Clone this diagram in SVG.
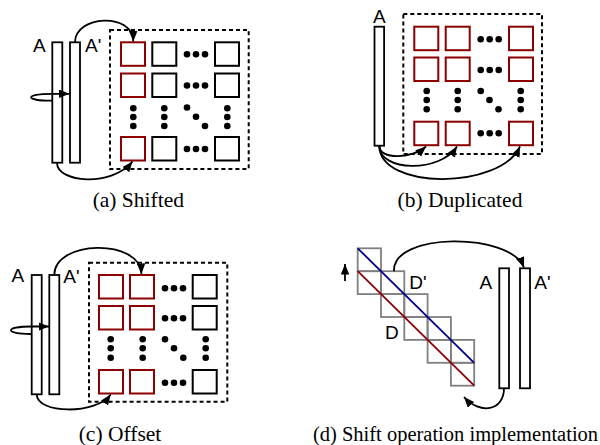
<svg xmlns="http://www.w3.org/2000/svg" width="600" height="445" viewBox="0 0 600 445">
<style>
.bar{fill:#fff;stroke:#000;stroke-width:1.8}
.sq{fill:none;stroke:#000;stroke-width:2}
.rd{fill:none;stroke:#8b0000;stroke-width:2}
.gs{fill:none;stroke:#808080;stroke-width:1.8}
.box{fill:none;stroke:#000;stroke-width:2;stroke-dasharray:4,3}
.lbl{font-family:"Liberation Sans",Arial,sans-serif;font-size:19px;fill:#000}
.cap{font-family:"Liberation Serif","Times New Roman",serif;font-size:21.5px;fill:#000;text-anchor:middle}
.con{fill:none;stroke:#000;stroke-width:1.8;marker-end:url(#ah)}
</style>
<defs>
<marker id="ah" markerUnits="userSpaceOnUse" markerWidth="12" markerHeight="10" refX="10.5" refY="4.25" orient="auto">
<path d="M0,0 L10.5,4.25 L0,8.5 z" fill="#000"/>
</marker>
<g id="dots3h"><circle cx="0" cy="0" r="3.3"/><circle cx="9" cy="0" r="3.3"/><circle cx="18" cy="0" r="3.3"/></g>
</defs>

<!-- Panel (a) -->
<g id="a-barA"><rect class="bar" x="52.3" y="42.3" width="10" height="120.4"/><text class="lbl" x="33" y="52">A</text></g>
<g id="a-barA2"><rect class="bar" x="70" y="42.3" width="10" height="120.4"/><text class="lbl" x="85" y="52">A'</text></g>
<g id="a-matrix">
<rect class="box" x="110" y="30" width="138.7" height="139"/>
<rect class="rd" x="121" y="42.3" width="24" height="23.5"/>
<rect class="rd" x="121" y="73.5" width="24" height="23.5"/>
<rect class="rd" x="121" y="137" width="24" height="23.5"/>
<rect class="sq" x="152.3" y="42.3" width="24" height="23.5"/>
<rect class="sq" x="152.3" y="73.5" width="24" height="23.5"/>
<rect class="sq" x="152.3" y="137" width="24" height="23.5"/>
<rect class="sq" x="215" y="42.3" width="24" height="23.5"/>
<rect class="sq" x="215" y="73.5" width="24" height="23.5"/>
<rect class="sq" x="215" y="137" width="24" height="23.5"/>
<use href="#dots3h" x="187" y="54.3"/>
<use href="#dots3h" x="187" y="85.5"/>
<use href="#dots3h" x="187" y="149"/>
<g>
<circle cx="133.3" cy="108.3" r="3.3"/><circle cx="133.3" cy="117" r="3.3"/><circle cx="133.3" cy="126" r="3.3"/>
<circle cx="164.3" cy="108.3" r="3.3"/><circle cx="164.3" cy="117" r="3.3"/><circle cx="164.3" cy="126" r="3.3"/>
<circle cx="227.3" cy="108.3" r="3.3"/><circle cx="227.3" cy="117" r="3.3"/><circle cx="227.3" cy="126" r="3.3"/>
<circle cx="187" cy="107.5" r="3.3"/><circle cx="196" cy="116.7" r="3.3"/><circle cx="205" cy="126" r="3.3"/>
</g>
</g>
<text class="cap" x="138.3" y="206.5">(a) Shifted</text>

<!-- Panel (b) -->
<g id="b-barA"><rect class="bar" x="374.5" y="26.7" width="9.6" height="119"/><text class="lbl" x="379.3" y="22.7" text-anchor="middle">A</text></g>
<g id="b-matrix">
<rect class="box" x="403.3" y="14" width="138.7" height="140"/>
<rect class="rd" x="414.3" y="26.7" width="24" height="23.5"/>
<rect class="rd" x="414.3" y="57.5" width="24" height="23.5"/>
<rect class="rd" x="414.3" y="121.7" width="24" height="23.5"/>
<rect class="rd" x="445.7" y="26.7" width="24" height="23.5"/>
<rect class="rd" x="445.7" y="57.5" width="24" height="23.5"/>
<rect class="rd" x="445.7" y="121.7" width="24" height="23.5"/>
<rect class="rd" x="509" y="26.7" width="24" height="23.5"/>
<rect class="rd" x="509" y="57.5" width="24" height="23.5"/>
<rect class="rd" x="509" y="121.7" width="24" height="23.5"/>
<use href="#dots3h" x="480.7" y="39.3"/>
<use href="#dots3h" x="480.7" y="70"/>
<use href="#dots3h" x="480.7" y="133.3"/>
<g>
<circle cx="426.7" cy="91" r="3.3"/><circle cx="426.7" cy="100" r="3.3"/><circle cx="426.7" cy="109.3" r="3.3"/>
<circle cx="457.7" cy="91" r="3.3"/><circle cx="457.7" cy="100" r="3.3"/><circle cx="457.7" cy="109.3" r="3.3"/>
<circle cx="520.7" cy="91" r="3.3"/><circle cx="520.7" cy="100" r="3.3"/><circle cx="520.7" cy="109.3" r="3.3"/>
<circle cx="480.7" cy="91" r="3.3"/><circle cx="489.5" cy="100" r="3.3"/><circle cx="498.5" cy="109.3" r="3.3"/>
</g>
</g>
<text class="cap" x="460" y="206.5">(b) Duplicated</text>

<!-- Panel (c) -->
<g id="c-barA"><rect class="bar" x="31.7" y="275" width="10" height="119.3"/><text class="lbl" x="11.5" y="281.5">A</text></g>
<g id="c-barA2"><rect class="bar" x="49.3" y="275" width="10" height="119.3"/><text class="lbl" x="63.3" y="283">A'</text></g>
<g id="c-matrix">
<rect class="box" x="89" y="262.7" width="138.3" height="139"/>
<rect class="rd" x="99" y="275" width="24" height="23.5"/>
<rect class="rd" x="99" y="306" width="24" height="23.5"/>
<rect class="rd" x="99" y="370" width="24" height="23.5"/>
<rect class="rd" x="130" y="275" width="24" height="23.5"/>
<rect class="rd" x="130" y="306" width="24" height="23.5"/>
<rect class="rd" x="130" y="370" width="24" height="23.5"/>
<rect class="sq" x="192.7" y="275" width="24" height="23.5"/>
<rect class="sq" x="192.7" y="306" width="24" height="23.5"/>
<rect class="sq" x="192.7" y="370" width="24" height="23.5"/>
<use href="#dots3h" x="165" y="288.3"/>
<use href="#dots3h" x="165" y="318.3"/>
<use href="#dots3h" x="165" y="382.7"/>
<g>
<circle cx="110.7" cy="339.3" r="3.3"/><circle cx="110.7" cy="348.3" r="3.3"/><circle cx="110.7" cy="357.7" r="3.3"/>
<circle cx="142.7" cy="339.3" r="3.3"/><circle cx="142.7" cy="348.3" r="3.3"/><circle cx="142.7" cy="357.7" r="3.3"/>
<circle cx="205.7" cy="339.3" r="3.3"/><circle cx="205.7" cy="348.3" r="3.3"/><circle cx="205.7" cy="357.7" r="3.3"/>
<circle cx="165" cy="339.3" r="3.3"/><circle cx="174" cy="348.3" r="3.3"/><circle cx="183.3" cy="357.7" r="3.3"/>
</g>
</g>
<text class="cap" x="120" y="441">(c) Offset</text>

<!-- Panel (d) -->
<g id="d-diagonals">
<rect class="gs" x="357.7" y="248.3" width="23.3" height="22.9"/>
<rect class="gs" x="357.7" y="271.2" width="23.3" height="22.9"/>
<rect class="gs" x="381" y="271.2" width="23.3" height="22.9"/>
<rect class="gs" x="381" y="294.1" width="23.3" height="22.9"/>
<rect class="gs" x="404.3" y="294.1" width="23.3" height="22.9"/>
<rect class="gs" x="404.3" y="317" width="23.3" height="22.9"/>
<rect class="gs" x="427.6" y="317" width="23.3" height="22.9"/>
<rect class="gs" x="427.6" y="339.9" width="23.3" height="22.9"/>
<rect class="gs" x="450.9" y="339.9" width="23.3" height="22.9"/>
<rect class="gs" x="450.9" y="362.8" width="23.3" height="22.9"/>
<line x1="357.7" y1="248.3" x2="474.2" y2="362.8" stroke="#00008b" stroke-width="1.8"/>
<line x1="357.7" y1="271.2" x2="474.2" y2="385.7" stroke="#8b0000" stroke-width="1.8"/>
<text class="lbl" x="409.3" y="288.5">D'</text>
<text class="lbl" x="385" y="338.5">D</text>
</g>
<g id="d-barA"><rect class="bar" x="499.3" y="268.3" width="9.7" height="120"/><text class="lbl" x="479.5" y="289">A</text></g>
<g id="d-barA2"><rect class="bar" x="520" y="268.3" width="10" height="120"/><text class="lbl" x="534.3" y="289">A'</text></g>
<text class="cap" x="455.5" y="441" style="font-size:20.5px">(d) Shift operation implementation</text>

<!-- Connectors -->
<g id="connectors">
<path class="con" d="M75,42.3 C75,15 133,12 133.3,41.5"/>
<path class="con" d="M57,162.7 C57,183 112,187 132.5,161.5"/>
<path class="con" d="M52.3,100.7 C24,101 24,93.8 52.3,93.8 L69.5,93.8"/>
<path class="con" d="M379.3,145.7 C379.3,160 412,159 426,146.5"/>
<path class="con" d="M379.3,145.7 C379.3,172 440,173 457,146.5"/>
<path class="con" d="M379.3,145.7 C379.3,190 500,190 520,146.5"/>
<path class="con" d="M54.3,275 C54.3,240 140,238 141.5,274"/>
<path class="con" d="M36.7,394.3 C36.7,414 96,415 110.7,394.5"/>
<path class="con" d="M31.7,334 C4,334.3 4,326.5 31.7,326.5 L49,326.5"/>
<path class="con" d="M394,271.2 C392,232 510,232 524,267.5"/>
<path class="con" d="M504,388.3 C504,411 480,415 464,397"/>
<path class="con" stroke-width="2.2" d="M345,281 L345,264"/>
</g>
</svg>
